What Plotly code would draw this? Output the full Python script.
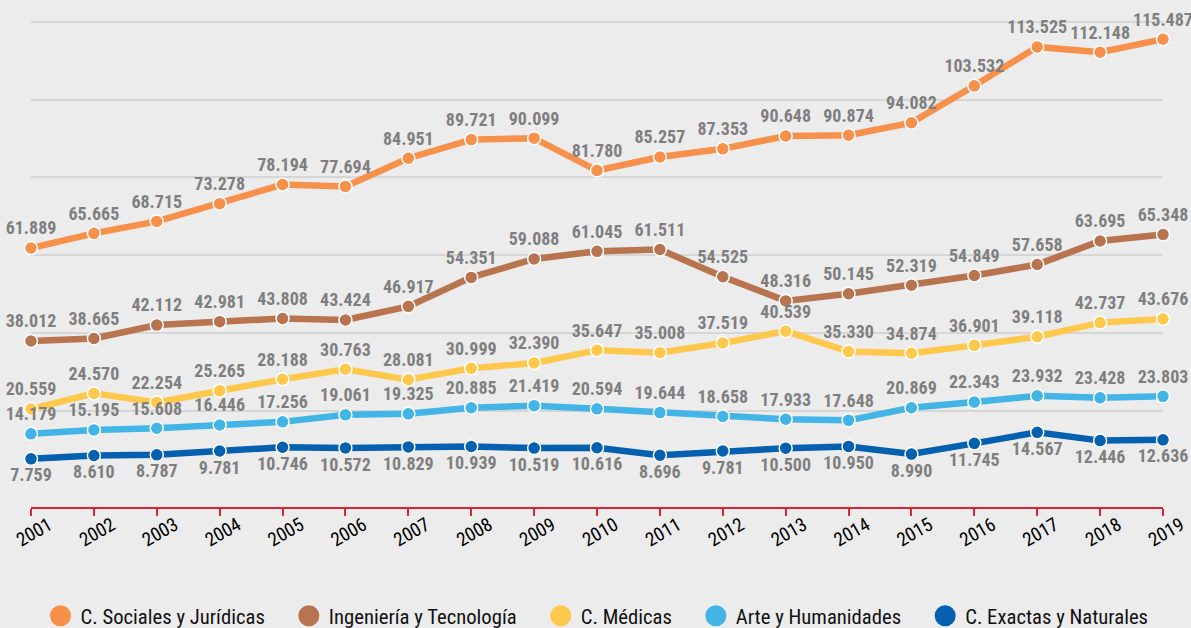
import plotly.graph_objects as go

years = list(range(2001, 2020))
series_names = ["C. Sociales y Jurídicas", "Ingeniería y Tecnología", "C. Médicas",
                "Arte y Humanidades", "C. Exactas y Naturales"]
sociales = [61889, 65665, 68715, 73278, 78194, 77694, 84951, 89721, 90099, 81780,
            85257, 87353, 90648, 90874, 94082, 103532, 113525, 112148, 115487]
ingenieria = [38012, 38665, 42112, 42981, 43808, 43424, 46917, 54351, 59088, 61045,
              61511, 54525, 48316, 50145, 52319, 54849, 57658, 63695, 65348]
medicas = [20559, 24570, 22254, 25265, 28188, 30763, 28081, 30999, 32390, 35647,
           35008, 37519, 40539, 35330, 34874, 36901, 39118, 42737, 43676]
arte = [14179, 15195, 15608, 16446, 17256, 19061, 19325, 20885, 21419, 20594,
        19644, 18658, 17933, 17648, 20869, 22343, 23932, 23428, 23803]
exactas = [7759, 8610, 8787, 9781, 10746, 10572, 10829, 10939, 10519, 10616,
           8696, 9781, 10500, 10950, 8990, 11745, 14567, 12446, 12636]
grid_vals = [20000, 40000, 60000, 80000, 100000, 120000]

colors = ["#f7904a", "#b8734f", "#fec84d", "#42b4e6", "#0560b0"]
positions = ["top center", "top center", "top center", "top center", "bottom center"]
all_series = [sociales, ingenieria, medicas, arte, exactas]

FONT = "'Roboto Condensed', 'Liberation Sans Narrow', 'DejaVu Sans Condensed', Roboto, sans-serif"
PAD = "\u00a0" * 4

fig = go.Figure()
for name, vals, col, pos in zip(series_names, all_series, colors, positions):
    fig.add_trace(go.Scatter(
        x=years, y=vals, mode="lines+markers+text", name=name, showlegend=False,
        line=dict(color=col, width=6.5),
        marker=dict(color=col, size=13, line=dict(color="white", width=1.5)),
        text=vals, texttemplate="%{y:,.0f}", textposition=pos,
        textfont=dict(family=FONT, size=18, color="#7f7f7f", weight="bold"),
        cliponaxis=False, hoverinfo="skip",
    ))
for i, (name, col) in enumerate(zip(series_names, colors)):
    fig.add_trace(go.Scatter(
        x=[None], y=[None], mode="markers",
        name=name + (PAD if i < len(series_names) - 1 else ""),
        marker=dict(color=col, size=16, line=dict(color=col, width=5)),
    ))

fig.update_layout(
    width=1191, height=628,
    paper_bgcolor="#ececec", plot_bgcolor="#ececec",
    margin=dict(l=31, r=28, t=10, b=121, autoexpand=False),
    separators=",.",
    font=dict(family=FONT, color="#000000"),
    showlegend=True,
    legend=dict(orientation="h", x=0.5, xanchor="center", y=-0.219, yanchor="middle",
                font=dict(family=FONT, size=20.7, color="#111111"),
                itemsizing="trace", bgcolor="rgba(0,0,0,0)"),
    xaxis=dict(range=[2001, 2019], tickvals=years, ticktext=[str(y) for y in years],
               tickangle=-30, showgrid=False, zeroline=False,
               showline=True, linecolor="#d7262e", linewidth=1.5,
               ticks="outside", ticklen=7, tickcolor="#d7262e", tickwidth=1.5,
               tickfont=dict(family=FONT, size=19, color="#000000"),
               ticklabelshift=18, ticklabelstandoff=-9),
    yaxis=dict(range=[-4600, 123000], tickvals=grid_vals, showticklabels=False,
               showgrid=True, gridcolor="#d6d6d6", gridwidth=1.5, zeroline=False),
)

fig.write_html("out.html", config={"displayModeBar": False},
               post_script="document.body.style.margin='0px';")
